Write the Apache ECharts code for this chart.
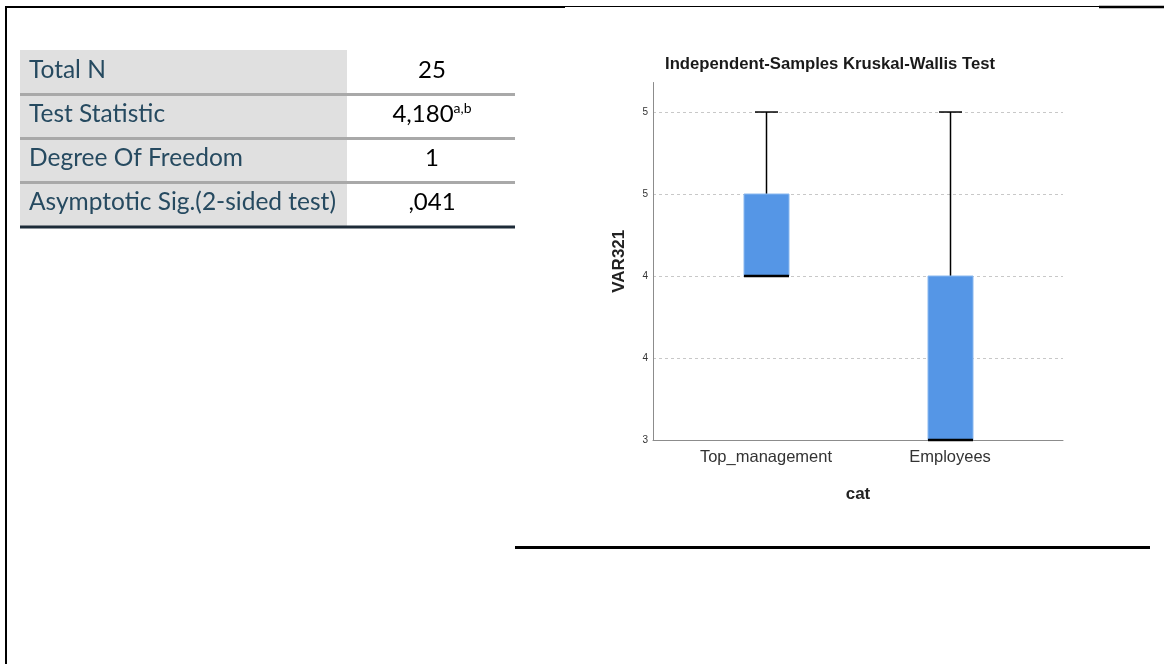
<!DOCTYPE html>
<html>
<head>
<meta charset="utf-8">
<script src="https://cdn.jsdelivr.net/npm/echarts@6/dist/echarts.min.js"></script>
<style>
  html, body { margin: 0; padding: 0; background: #fff; }
  #main { width: 1164px; height: 664px; }
</style>
</head>
<body>
<div id="main"></div>
<script>
// ---- Table data ----
var tableLabels = ['Total N', 'Test Statistic', 'Degree Of Freedom', 'Asymptotic Sig.(2-sided test)'];
var tableValues = ['25', '4,180', '1', ',041'];
var tableSuperscripts = ['', 'a,b', '', ''];

// ---- Chart data ----
var categories = ['Top_management', 'Employees'];
var boxMin = [4, 3];
var boxQ1 = [4, 3];
var boxMedian = [4, 3];
var boxQ3 = [4.5, 4];
var boxMax = [5, 5];
var yTickValues = [3, 3.5, 4, 4.5, 5];
var yTickLabels = ['3', '4', '4', '5', '5'];

var chart = echarts.init(document.getElementById('main'), null, { renderer: 'canvas' });

var seriesData = categories.map(function (c, i) {
  return [i, boxMin[i], boxQ1[i], boxMedian[i], boxQ3[i], boxMax[i]];
});

function renderItem(params, api) {
  var x = api.value(0);
  var pMin = api.coord([x, api.value(1)]);
  var pQ1 = api.coord([x, api.value(2)]);
  var pMed = api.coord([x, api.value(3)]);
  var pQ3 = api.coord([x, api.value(4)]);
  var pMax = api.coord([x, api.value(5)]);
  var cx = Math.round(pMax[0]) + 0.5;
  var halfBox = 22.5, halfCap = 11.5;
  var children = [];
  children.push({ type: 'line', shape: { x1: cx, y1: pQ3[1], x2: cx, y2: pMax[1] }, style: { stroke: '#000', lineWidth: 1.5 } });
  children.push({ type: 'line', shape: { x1: cx - halfCap, y1: pMax[1], x2: cx + halfCap, y2: pMax[1] }, style: { stroke: '#000', lineWidth: 1.5 } });
  if (api.value(1) < api.value(2)) {
    children.push({ type: 'line', shape: { x1: cx, y1: pQ1[1], x2: cx, y2: pMin[1] }, style: { stroke: '#000', lineWidth: 1.5 } });
    children.push({ type: 'line', shape: { x1: cx - halfCap, y1: pMin[1], x2: cx + halfCap, y2: pMin[1] }, style: { stroke: '#000', lineWidth: 1.5 } });
  }
  children.push({ type: 'rect', shape: { x: cx - halfBox, y: pQ3[1], width: halfBox * 2, height: pQ1[1] - pQ3[1] }, style: { fill: '#5596e6', stroke: '#8ab8ef', lineWidth: 1 } });
  children.push({ type: 'line', shape: { x1: cx - halfBox, y1: pMed[1], x2: cx + halfBox, y2: pMed[1] }, style: { stroke: '#000', lineWidth: 2.5 } });
  return { type: 'group', children: children };
}

// ---- Table graphics ----
var graphics = [];
var rowTop0 = 50, rowH = 44;
tableLabels.forEach(function (lab, i) {
  var top = rowTop0 + i * rowH;
  graphics.push({ type: 'rect', shape: { x: 20, y: top, width: 327, height: rowH }, style: { fill: '#e0e0e0' }, z: 1 });
  graphics.push({ type: 'text', x: 29, y: top + 20, style: { text: lab, font: '24.5px Lato', fill: '#264a60', textVerticalAlign: 'middle', textAlign: 'left' }, z: 3 });
  var txt = tableSuperscripts[i] ? '{n|' + tableValues[i] + '}{s|' + tableSuperscripts[i] + '}' : '{n|' + tableValues[i] + '}';
  graphics.push({ type: 'text', x: 432, y: top + 20, style: {
    text: txt, textAlign: 'center', textVerticalAlign: 'middle', fill: '#000',
    rich: {
      n: { fontFamily: 'Lato', fontSize: 24, fill: '#000', lineHeight: 26 },
      s: { fontFamily: 'Lato', fontSize: 14, fill: '#000', verticalAlign: 'top', lineHeight: 26 }
    }
  }, z: 3 });
  if (i < tableLabels.length - 1) {
    graphics.push({ type: 'line', shape: { x1: 20, y1: top + rowH + 0.5, x2: 515, y2: top + rowH + 0.5 }, style: { stroke: '#a9a9a9', lineWidth: 3 }, z: 2 });
  }
});
graphics.push({ type: 'line', shape: { x1: 20, y1: rowTop0 + 4 * rowH + 1, x2: 515, y2: rowTop0 + 4 * rowH + 1 }, style: { stroke: '#1d2b38', lineWidth: 3 }, z: 2 });

// ---- Frame lines ----
graphics.push({ type: 'line', shape: { x1: 6, y1: 6, x2: 6, y2: 664 }, style: { stroke: '#000', lineWidth: 2 } });
graphics.push({ type: 'line', shape: { x1: 5, y1: 7, x2: 565, y2: 7 }, style: { stroke: '#000', lineWidth: 2 } });
graphics.push({ type: 'line', shape: { x1: 565, y1: 6.5, x2: 1099, y2: 6.5 }, style: { stroke: '#000', lineWidth: 1 } });
graphics.push({ type: 'line', shape: { x1: 1099, y1: 7, x2: 1164, y2: 7 }, style: { stroke: '#000', lineWidth: 2.5 } });
graphics.push({ type: 'line', shape: { x1: 515, y1: 547.5, x2: 1150, y2: 547.5 }, style: { stroke: '#000', lineWidth: 3 } });

var option = {
  backgroundColor: '#ffffff',
  animation: false,
  title: {
    text: 'Independent-Samples Kruskal-Wallis Test',
    left: 660, top: 51,
    textStyle: { fontFamily: 'Liberation Sans', fontSize: 16.7, fontWeight: 'bold', color: '#1a1a1a' }
  },
  grid: { left: 653, right: 101, top: 82.5, bottom: 224 },
  xAxis: {
    type: 'value',
    min: -0.614, max: 1.614,
    name: 'cat', nameLocation: 'middle', nameGap: 46,
    nameTextStyle: { fontFamily: 'Liberation Sans', fontSize: 17, fontWeight: 'bold', color: '#222' },
    axisLine: { show: true, onZero: false, lineStyle: { color: '#8c8c8c', width: 1 } },
    axisTick: { show: false },
    splitLine: { show: false },
    axisLabel: {
      customValues: [0, 1],
      margin: 9,
      fontFamily: 'Liberation Sans', fontSize: 16.5, color: '#333',
      formatter: function (v) { return categories[Math.round(v)] || ''; }
    }
  },
  yAxis: {
    type: 'value',
    min: 3, max: 5.18, interval: 0.5,
    name: 'VAR321', nameLocation: 'middle', nameGap: 25,
    nameTextStyle: { fontFamily: 'Liberation Sans', fontSize: 17, fontWeight: 'bold', color: '#222' },
    axisLine: { show: true, onZero: false, lineStyle: { color: '#8c8c8c', width: 1 } },
    axisTick: { show: false },
    axisLabel: {
      margin: 5, fontFamily: 'Liberation Sans', fontSize: 10, color: '#333',
      showMaxLabel: false,
      formatter: function (v) {
        for (var k = 0; k < yTickValues.length; k++) {
          if (Math.abs(yTickValues[k] - v) < 1e-6) return yTickLabels[k];
        }
        return '';
      }
    },
    splitLine: { show: true, showMinLine: false, showMaxLine: false, lineStyle: { color: '#c8c8c8', type: [3, 3], width: 1 } }
  },
  series: [{
    type: 'custom',
    renderItem: renderItem,
    clip: false,
    z: 10,
    encode: { x: 0, y: [1, 2, 3, 4, 5] },
    data: seriesData
  }],
  graphic: { elements: graphics }
};
chart.setOption(option);
</script>
</body>
</html>
